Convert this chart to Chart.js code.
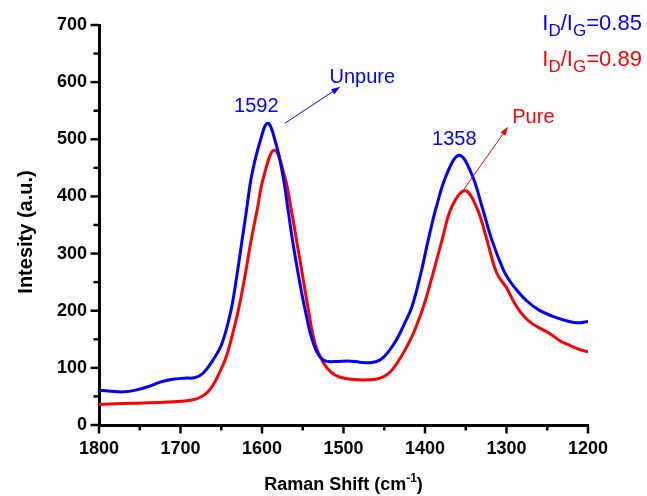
<!DOCTYPE html>
<html>
<head>
<meta charset="utf-8">
<script src="https://cdn.jsdelivr.net/npm/chart.js@4.4.0/dist/chart.umd.min.js"></script>
<style>
  html, body { margin: 0; padding: 0; background: #fff; }
  #wrap { width: 647px; height: 496px; }
</style>
</head>
<body>
<div id="wrap"><canvas id="ramanChart"></canvas></div>
<script>
var unpureShift = [1800, 1785, 1770, 1755, 1740, 1725, 1710, 1695, 1682, 1672, 1660, 1649, 1638, 1631, 1625, 1619, 1613, 1603, 1593, 1583, 1574, 1568, 1562, 1555, 1547, 1537, 1525, 1510, 1495, 1480, 1467, 1455, 1445, 1435, 1425, 1416, 1405, 1396, 1386, 1373, 1358, 1343, 1330, 1318, 1304, 1296, 1288, 1275, 1260, 1243, 1228, 1214, 1200];
var unpureInt = [61, 59, 58, 61, 67, 75, 80, 82, 83, 91, 114, 143, 201, 260, 318, 376, 434, 493, 528, 493, 434, 376, 318, 260, 201, 143, 114, 111, 112, 110, 109, 114, 128, 149, 178, 207, 266, 324, 382, 440, 472, 440, 382, 324, 272, 252, 237, 217, 201, 190, 183, 179, 181];

var pureShift = [1800, 1760, 1720, 1695, 1682, 1674, 1667, 1660, 1652, 1645, 1639, 1629, 1621, 1614, 1606, 1598, 1585, 1572, 1564, 1557, 1550, 1543, 1535, 1525, 1515, 1505, 1490, 1471, 1455, 1440, 1418, 1402, 1390, 1379, 1367, 1351, 1337, 1324, 1312, 1300, 1290, 1283, 1275, 1267, 1247, 1235, 1222, 1210, 1200];
var pureInt = [36, 38, 40, 42, 45, 50, 57, 70, 92, 115, 143, 201, 260, 318, 376, 434, 481, 434, 376, 318, 260, 201, 143, 110, 92, 84, 80, 79, 82, 97, 149, 207, 266, 324, 382, 410, 382, 324, 266, 240, 213, 198, 185, 176, 160, 148, 139, 132, 128];

var seriesNames = ['Unpure', 'Pure'];
var peakLabels = ['1592', '1358'];
var ratioLabels = ['0.85', '0.89'];

var BLUE = '#0000ff';
var RED = '#ff0000';
var FONT = "'Liberation Sans', Arial, Helvetica, sans-serif";

function toPoints(xs, ys) {
  return xs.map(function (x, i) { return { x: x, y: ys[i] }; });
}

function arrow(ctx, x1, y1, x2, y2, color) {
  var ang = Math.atan2(y2 - y1, x2 - x1);
  ctx.strokeStyle = color;
  ctx.fillStyle = color;
  ctx.lineWidth = 1;
  ctx.beginPath();
  ctx.moveTo(x1, y1);
  ctx.lineTo(x2 - 6 * Math.cos(ang), y2 - 6 * Math.sin(ang));
  ctx.stroke();
  ctx.beginPath();
  ctx.moveTo(x2, y2);
  ctx.lineTo(x2 - 9 * Math.cos(ang) + 3 * Math.sin(ang), y2 - 9 * Math.sin(ang) - 3 * Math.cos(ang));
  ctx.lineTo(x2 - 9 * Math.cos(ang) - 3 * Math.sin(ang), y2 - 9 * Math.sin(ang) + 3 * Math.cos(ang));
  ctx.closePath();
  ctx.fill();
}

function ratio(ctx, x, y, value, color) {
  var parts = [['I', 0, 22], ['D', 6, 17], ['/I', 0, 22], ['G', 6, 17], ['=' + value, 0, 22]];
  ctx.fillStyle = color;
  ctx.textAlign = 'left';
  ctx.textBaseline = 'alphabetic';
  parts.forEach(function (p) {
    ctx.font = p[2] + 'px ' + FONT;
    ctx.fillText(p[0], x, y + p[1]);
    x += ctx.measureText(p[0]).width;
  });
}

var decor = {
  id: 'decor',
  afterDraw: function (chart) {
    var ctx = chart.ctx;
    var xs = chart.scales.x;
    var ys = chart.scales.y;
    var area = chart.chartArea;
    ctx.save();

    // outward ticks, major every 100, minor every 50
    ctx.strokeStyle = '#000';
    ctx.lineWidth = 2.5;
    xs.ticks.forEach(function (t) {
      var px = xs.getPixelForValue(t.value);
      var len = t.value % 100 === 0 ? 7 : 4;
      ctx.beginPath();
      ctx.moveTo(px, area.bottom);
      ctx.lineTo(px, area.bottom + 1.5 + len);
      ctx.stroke();
    });
    ys.ticks.forEach(function (t) {
      var py = ys.getPixelForValue(t.value);
      var len = t.value % 100 === 0 ? 7 : 4;
      ctx.beginPath();
      ctx.moveTo(area.left, py);
      ctx.lineTo(area.left - 1.5 - len, py);
      ctx.stroke();
    });

    // axis titles
    ctx.fillStyle = '#000';
    var t1 = 'Raman Shift (cm';
    var t2 = '-1';
    var t3 = ')';
    ctx.font = 'bold 18px ' + FONT;
    var w1 = ctx.measureText(t1).width;
    var w3 = ctx.measureText(t3).width;
    ctx.font = 'bold 12px ' + FONT;
    var w2 = ctx.measureText(t2).width;
    var cx = (area.left + area.right) / 2;
    var sx = cx - (w1 + w2 + w3) / 2;
    var by = 490;
    ctx.textAlign = 'left';
    ctx.textBaseline = 'alphabetic';
    ctx.font = 'bold 18px ' + FONT;
    ctx.fillText(t1, sx, by);
    ctx.font = 'bold 12px ' + FONT;
    ctx.fillText(t2, sx + w1, by - 8);
    ctx.font = 'bold 18px ' + FONT;
    ctx.fillText(t3, sx + w1 + w2, by);

    ctx.save();
    ctx.translate(32, 232);
    ctx.rotate(-Math.PI / 2);
    ctx.textAlign = 'center';
    ctx.font = 'bold 20px ' + FONT;
    ctx.fillText('Intesity (a.u.)', 0, 0);
    ctx.restore();

    // peak labels and arrows
    ctx.font = '20px ' + FONT;
    ctx.textAlign = 'center';
    ctx.textBaseline = 'middle';
    ctx.fillStyle = BLUE;
    ctx.fillText(peakLabels[0], xs.getPixelForValue(1607), ys.getPixelForValue(557));
    ctx.fillText(peakLabels[1], xs.getPixelForValue(1364), ys.getPixelForValue(499));
    ctx.fillText(seriesNames[0], xs.getPixelForValue(1477), ys.getPixelForValue(609));
    ctx.fillStyle = RED;
    ctx.fillText(seriesNames[1], xs.getPixelForValue(1267), ys.getPixelForValue(539));

    arrow(ctx, xs.getPixelForValue(1572), ys.getPixelForValue(528),
      xs.getPixelForValue(1504), ys.getPixelForValue(592), BLUE);
    arrow(ctx, xs.getPixelForValue(1353), ys.getPixelForValue(411),
      xs.getPixelForValue(1298), ys.getPixelForValue(522), RED);

    ratio(ctx, xs.getPixelForValue(1256), ys.getPixelForValue(691), ratioLabels[0], BLUE);
    ratio(ctx, xs.getPixelForValue(1256), ys.getPixelForValue(629), ratioLabels[1], RED);

    ctx.restore();
  }
};

new Chart(document.getElementById('ramanChart'), {
  type: 'line',
  data: {
    datasets: [
      {
        label: seriesNames[0],
        data: toPoints(unpureShift, unpureInt),
        borderColor: BLUE,
        borderWidth: 3,
        pointRadius: 0,
        tension: 0.4,
        fill: false,
      },
      {
        label: seriesNames[1],
        data: toPoints(pureShift, pureInt),
        borderColor: RED,
        borderWidth: 3,
        pointRadius: 0,
        tension: 0.4,
        fill: false,
      },
    ],
  },
  options: {
    responsive: true,
    maintainAspectRatio: false,
    animation: false,
    layout: { padding: { top: 25, right: 59, bottom: 0, left: 0 } },
    plugins: {
      legend: { display: false },
      tooltip: { enabled: false },
    },
    scales: {
      x: {
        type: 'linear',
        reverse: true,
        min: 1200,
        max: 1800,
        grid: { display: false, drawTicks: false },
        border: { display: true, color: '#000', width: 3 },
        ticks: {
          stepSize: 50,
          autoSkip: false,
          maxRotation: 0,
          padding: 13,
          color: '#000',
          font: { family: FONT, size: 18, weight: 'bold' },
          callback: function (v) { return v % 100 === 0 ? String(v) : ''; },
        },
        afterFit: function (scale) { scale.height = 71; },
      },
      y: {
        min: 0,
        max: 700,
        grid: { display: false, drawTicks: false },
        border: { display: true, color: '#000', width: 3 },
        ticks: {
          stepSize: 50,
          autoSkip: false,
          padding: 12,
          color: '#000',
          font: { family: FONT, size: 18, weight: 'bold' },
          callback: function (v) { return v % 100 === 0 ? String(v) : ''; },
        },
        afterFit: function (scale) { scale.width = 99; },
      },
    },
  },
  plugins: [decor],
});
</script>
</body>
</html>
